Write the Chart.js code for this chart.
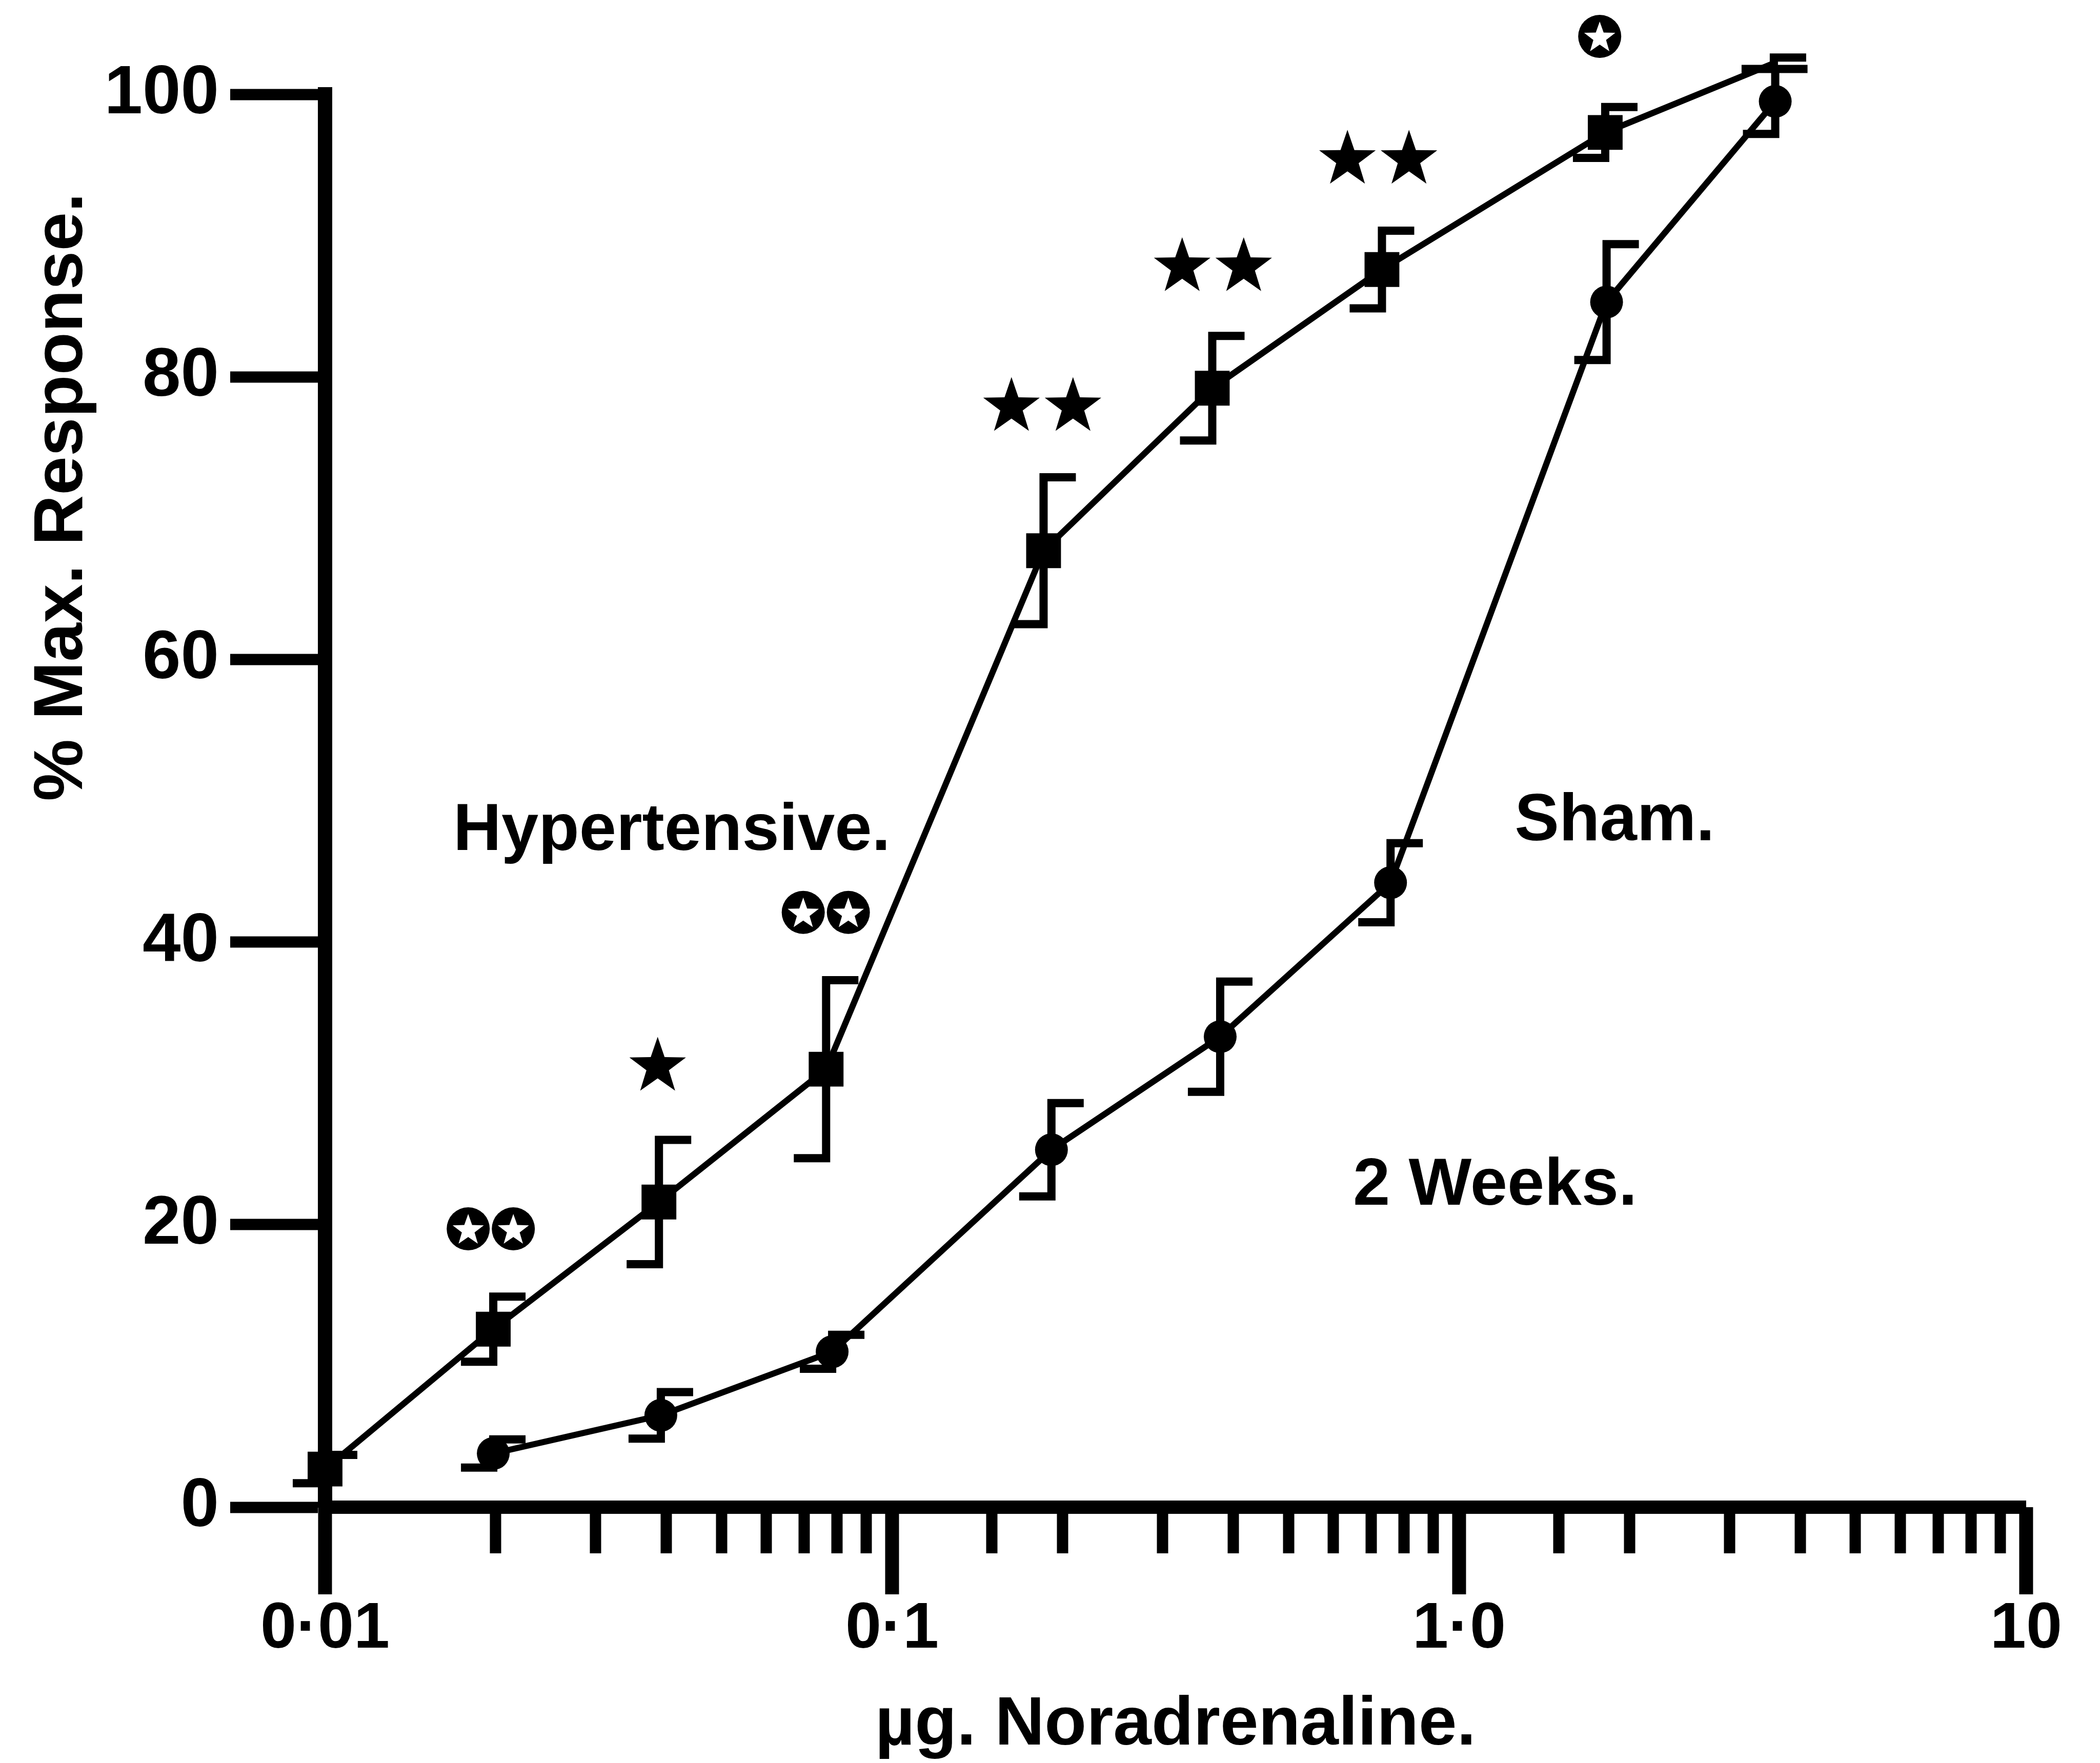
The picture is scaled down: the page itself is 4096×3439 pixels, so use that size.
<!DOCTYPE html>
<html>
<head>
<meta charset="utf-8">
<script src="https://cdn.jsdelivr.net/npm/chart.js@4.4.1/dist/chart.umd.min.js"></script>
<style>
  html, body { margin: 0; padding: 0; background: #fff; }
  #wrap { width: 4096px; height: 3439px; }
</style>
</head>
<body>
<div id="wrap"><canvas id="myChart" width="4096" height="3439"></canvas></div>
<script>
// µg noradrenaline vs % of max response (mean, SEM)
const hypDose = [0.01, 0.0198, 0.0388, 0.0765, 0.185, 0.367, 0.731, 1.81, 3.59]
const hypMean = [2.7, 12.6, 21.6, 31.0, 67.7, 79.2, 87.6, 97.3, 102.2]
const hypSem = [1.0, 2.3, 4.4, 6.3, 5.2, 3.7, 2.75, 1.8, 0.4]

const shamDose = [0.0198, 0.0391, 0.0784, 0.191, 0.379, 0.757, 1.82, 3.61]
const shamMean = [3.8, 6.5, 11.0, 25.3, 33.3, 44.2, 85.3, 99.5]
const shamSem = [1.0, 1.65, 1.2, 3.3, 3.9, 2.8, 4.1, 2.3]

const yTickStep = 20
const xTickNames = [[0.01, '0·01'], [0.1, '0·1'], [1, '1·0'], [10, '10']]

// significance symbols: 'star' = filled star, 'ring' = star in a black disc
const sigDose = [0.0196, 0.0386, 0.0764, 0.184, 0.368, 0.72, 1.77]
const sigLevel = [19.7, 31.4, 42.1, 78.1, 88.0, 95.6, 104.1]
const sigKind = ['ring', 'star', 'ring', 'star', 'star', 'star', 'ring']
const sigCount = [2, 1, 2, 2, 2, 2, 1]

const curveNames = ['Hypertensive.', 'Sham.', '2 Weeks.']
const curveNameDose = [0.01683, 1.253, 0.65]
const curveNameLevel = [46.5, 47.2, 21.4]

const FONT = '"Liberation Sans", Arial, Helvetica, sans-serif'

function starPath(ctx, cx, cy, R, r) {
  ctx.beginPath()
  for (let k = 0; k < 10; k++) {
    const a = -Math.PI / 2 + k * Math.PI / 5
    const rr = k % 2 ? r : R
    ctx.lineTo(cx + rr * Math.cos(a), cy + rr * Math.sin(a))
  }
  ctx.closePath()
}

const extras = {
  id: 'extras',
  beforeDatasetsDraw(chart) {
    const {ctx, scales: {x, y}} = chart
    ctx.save()
    ctx.strokeStyle = '#000'
    ctx.lineWidth = 16
    ctx.lineJoin = 'miter'
    const cap = 63
    const bars = (dose, mean, sem) => dose.forEach((d, i) => {
      const px = x.getPixelForValue(d)
      const py = y.getPixelForValue(mean[i])
      const hi = y.getPixelForValue(mean[i] + sem[i])
      const lo = y.getPixelForValue(mean[i] - sem[i])
      ctx.beginPath()
      ctx.moveTo(px, py); ctx.lineTo(px, hi); ctx.lineTo(px + cap, hi)
      ctx.moveTo(px, py); ctx.lineTo(px, lo); ctx.lineTo(px - cap, lo)
      ctx.stroke()
    })
    bars(hypDose, hypMean, hypSem)
    bars(shamDose, shamMean, shamSem)
    ctx.restore()
  },
  afterDraw(chart) {
    const {ctx, chartArea, scales: {x, y}} = chart
    ctx.save()
    ctx.fillStyle = '#000'
    ctx.strokeStyle = '#000'

    // long ticks at each decade
    ctx.lineWidth = 27
    xTickNames.forEach(([v]) => {
      const px = x.getPixelForValue(v)
      ctx.beginPath()
      ctx.moveTo(px, chartArea.bottom)
      ctx.lineTo(px, chartArea.bottom + 170)
      ctx.stroke()
    })

    // stars
    sigDose.forEach((d, i) => {
      const px = x.getPixelForValue(d)
      const py = y.getPixelForValue(sigLevel[i])
      const ring = sigKind[i] === 'ring'
      const gap = ring ? 88 : 120
      for (let k = 0; k < sigCount[i]; k++) {
        const cx = px + (k - (sigCount[i] - 1) / 2) * gap
        if (ring) {
          ctx.fillStyle = '#000'
          ctx.beginPath()
          ctx.arc(cx, py, 42, 0, Math.PI * 2)
          ctx.fill()
          ctx.fillStyle = '#fff'
          starPath(ctx, cx, py + 3, 32, 13)
          ctx.fill()
        } else {
          ctx.fillStyle = '#000'
          starPath(ctx, cx, py + 6, 58, 23)
          ctx.fill()
        }
      }
    })

    // curve names
    ctx.fillStyle = '#000'
    ctx.font = 'bold 130px ' + FONT
    ctx.textAlign = 'left'
    ctx.textBaseline = 'alphabetic'
    curveNames.forEach((t, i) => {
      ctx.fillText(t, x.getPixelForValue(curveNameDose[i]), y.getPixelForValue(curveNameLevel[i]))
    })

    // y axis title
    ctx.font = 'bold 136px ' + FONT
    ctx.textAlign = 'center'
    ctx.translate(160, y.getPixelForValue(71.5))
    ctx.rotate(-Math.PI / 2)
    ctx.fillText('% Max. Response.', 0, 0)
    ctx.restore()
  }
}

const hypPoints = hypDose.map((d, i) => ({x: d, y: hypMean[i]}))
const shamPoints = shamDose.map((d, i) => ({x: d, y: shamMean[i]}))

const ctx = document.getElementById('myChart').getContext('2d')
const myChart = new Chart(ctx, {
  type: 'scatter',
  data: {
    datasets: [{
      label: 'Hypertensive',
      data: hypPoints,
      showLine: true,
      borderColor: '#000',
      borderWidth: 12,
      tension: 0,
      pointStyle: 'rect',
      pointRadius: 48,
      pointBackgroundColor: '#000',
      pointBorderWidth: 0,
      clip: false
    }, {
      label: 'Sham',
      data: shamPoints,
      showLine: true,
      borderColor: '#000',
      borderWidth: 12,
      tension: 0,
      pointStyle: 'circle',
      pointRadius: 32,
      pointBackgroundColor: '#000',
      pointBorderWidth: 0,
      clip: false
    }]
  },
  options: {
    responsive: false,
    animation: false,
    devicePixelRatio: 1,
    layout: { padding: { left: 0, top: 184, right: 106, bottom: 0 } },
    plugins: {
      legend: { display: false },
      tooltip: { enabled: false }
    },
    scales: {
      x: {
        type: 'logarithmic',
        min: 0.01,
        max: 10,
        afterFit: s => { s.height = 499 },
        border: { display: true, color: '#000', width: 26 },
        grid: {
          display: true,
          drawOnChartArea: false,
          drawTicks: true,
          tickLength: 90,
          tickWidth: 22,
          tickColor: '#000'
        },
        ticks: {
          autoSkip: false,
          maxRotation: 0,
          color: '#000',
          padding: 74,
          font: { family: FONT, weight: 'bold', size: 126 },
          callback: v => {
            const hit = xTickNames.find(([k]) => Math.abs(Math.log10(v / k)) < 1e-6)
            return hit ? hit[1] : ''
          }
        },
        title: {
          display: true,
          text: 'µg. Noradrenaline.',
          color: '#000',
          font: { family: FONT, weight: 'bold', size: 134, lineHeight: 1 },
          padding: { top: 0, bottom: 6 }
        }
      },
      y: {
        min: 0,
        max: 100,
        afterFit: s => { s.width = 634 },
        border: { display: true, color: '#000', width: 28 },
        grid: {
          display: true,
          drawOnChartArea: false,
          drawTicks: true,
          tickLength: 185,
          tickWidth: 22,
          tickColor: '#000'
        },
        ticks: {
          stepSize: yTickStep,
          color: '#000',
          padding: 22,
          font: { family: FONT, weight: 'bold', size: 134 }
        }
      }
    }
  },
  plugins: [extras]
})
</script>
</body>
</html>
